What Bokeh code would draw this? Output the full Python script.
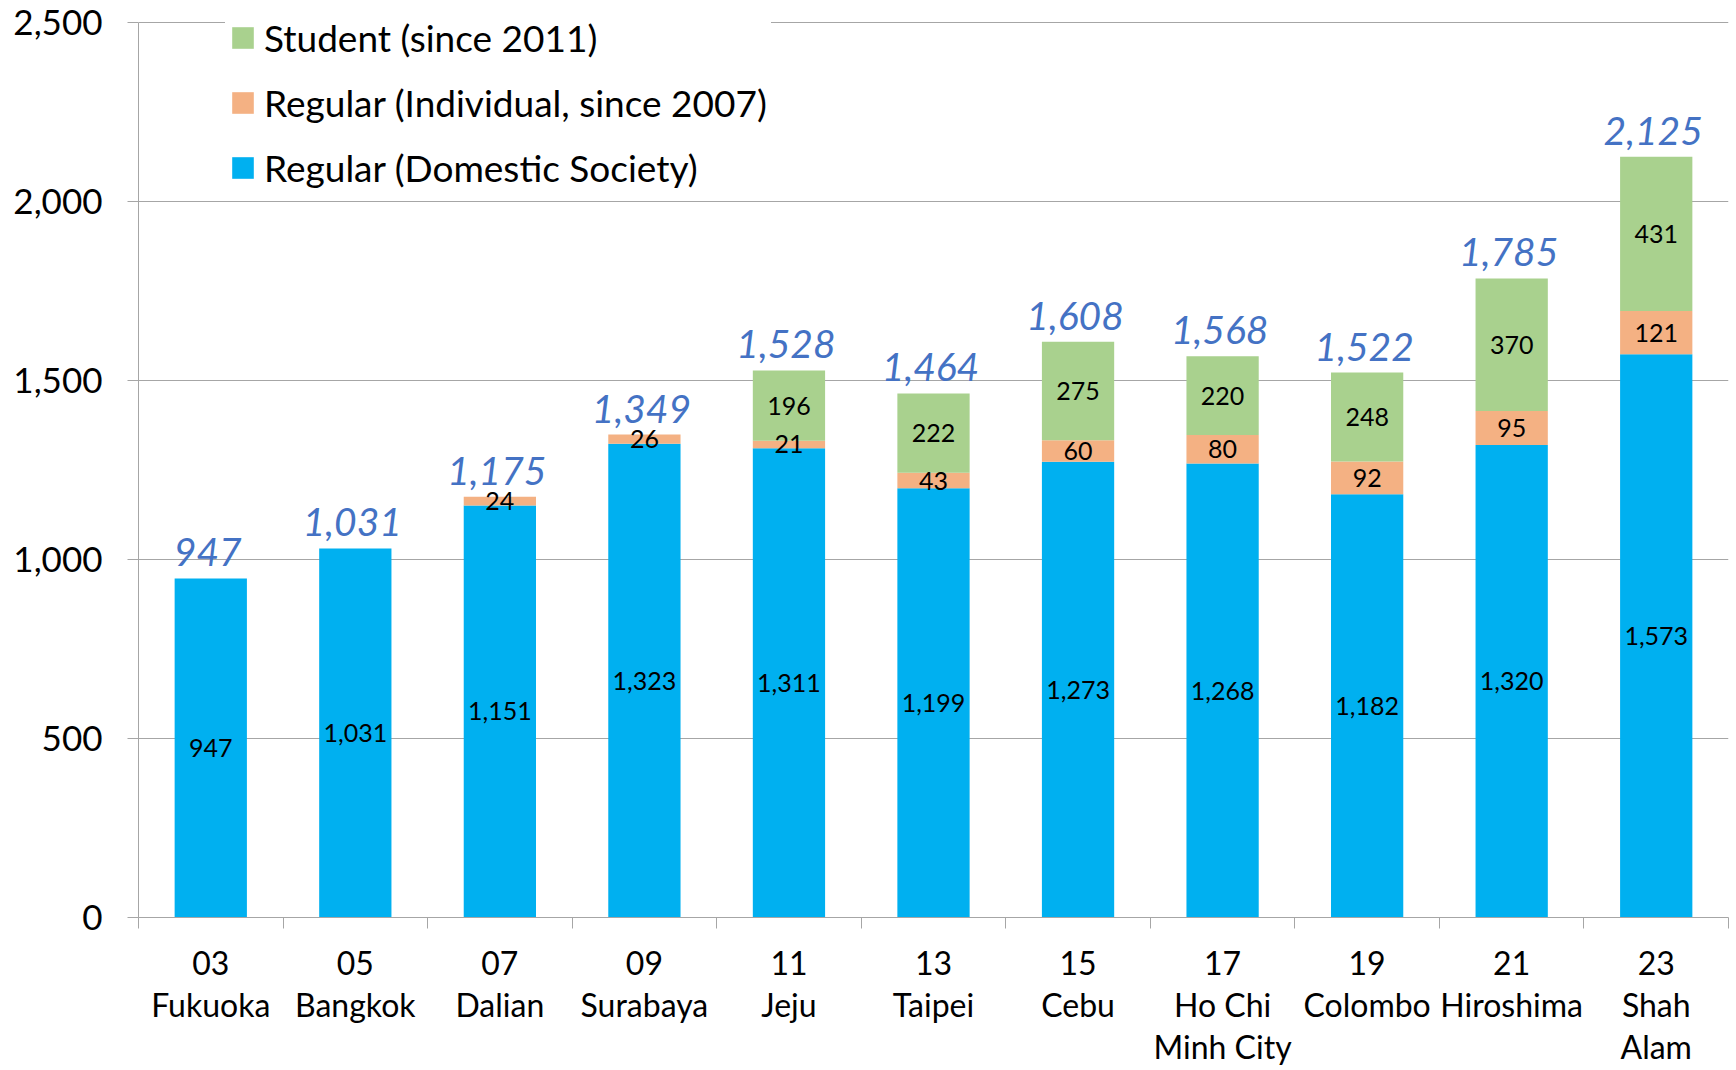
from bokeh.plotting import figure
from bokeh.models import ColumnDataSource, FixedTicker, NumeralTickFormatter, Legend, LegendItem
from bokeh.core.properties import value
from bokeh.embed import file_html
from bokeh.resources import INLINE

years = ["03", "05", "07", "09", "11", "13", "15", "17", "19", "21", "23"]
cities = ["Fukuoka", "Bangkok", "Dalian", "Surabaya", "Jeju", "Taipei", "Cebu",
          "Ho Chi\nMinh City", "Colombo", "Hiroshima", "Shah\nAlam"]
domestic = [947, 1031, 1151, 1323, 1311, 1199, 1273, 1268, 1182, 1320, 1573]
individual = [0, 0, 24, 26, 21, 43, 60, 80, 92, 95, 121]
student = [0, 0, 0, 0, 196, 222, 275, 220, 248, 370, 431]
y_ticks = [0, 500, 1000, 1500, 2000, 2500]
series_names = ["Regular (Domestic Society)", "Regular (Individual, since 2007)", "Student (since 2011)"]

FONT = "Lato"
GRAY = "#A6A6A6"
colors = ["#00B0F0", "#F4B183", "#A9D18E"]

n = len(years)
xs = [i + 0.5 for i in range(n)]
totals = [d + a + s for d, a, s in zip(domestic, individual, student)]

src = ColumnDataSource(dict(x=xs, domestic=domestic, individual=individual, student=student))

FRAME_H = 903
Y_TOP = y_ticks[-1] * FRAME_H / (FRAME_H - 8)   # 8px headroom above the top gridline
p = figure(frame_width=1590, frame_height=FRAME_H, x_range=(0, n), y_range=(0, Y_TOP),
           output_backend="svg", toolbar_location=None,
           min_border_left=138, min_border_right=8, min_border_top=14, min_border_bottom=140)
p.outline_line_color = None
p.background_fill_color = "white"

rs = p.vbar_stack(["domestic", "individual", "student"], x="x", width=0.5, source=src,
                  color=colors, line_color=None)

# segment labels
lx, ly, lt = [], [], []
for vals, base in ((domestic, [0] * n),
                   (individual, domestic),
                   (student, [d + a for d, a in zip(domestic, individual)])):
    for i in range(n):
        if vals[i] > 0:
            lx.append(xs[i])
            ly.append(base[i] + vals[i] / 2)
            lt.append(f"{vals[i]:,}")
p.text(x=lx, y=ly, text=lt, text_align="center", text_baseline="middle",
       text_font=value(FONT), text_font_size="25px", text_color="black")

# total labels
p.text(x=xs, y=totals, text=[f"{t:,}" for t in totals], text_align="center",
       text_baseline="alphabetic", y_offset=-26, x_offset=-3,
       text_font=value(FONT), text_font_size="39px", text_font_style="italic",
       text_color="#4472C4")

# y axis
p.yaxis.ticker = FixedTicker(ticks=y_ticks)
p.yaxis.formatter = NumeralTickFormatter(format="0,0")
p.yaxis.bounds = (y_ticks[0], y_ticks[-1])
p.yaxis.axis_line_color = GRAY
p.yaxis.major_tick_line_color = GRAY
p.yaxis.major_tick_out = 11
p.yaxis.major_tick_in = 0
p.yaxis.minor_tick_line_color = None
p.yaxis.major_label_text_font = FONT
p.yaxis.major_label_text_font_size = "35px"
p.yaxis.major_label_text_color = "black"
p.yaxis.major_label_standoff = 25

# x axis
p.xaxis.ticker = FixedTicker(ticks=xs, minor_ticks=list(range(n + 1)))
p.xaxis.major_label_overrides = {x: f"{y}\n{c}" for x, y, c in zip(xs, years, cities)}
p.xaxis.axis_line_color = GRAY
p.xaxis.major_tick_line_color = None
p.xaxis.major_tick_out = 0
p.xaxis.major_tick_in = 0
p.xaxis.minor_tick_line_color = GRAY
p.xaxis.minor_tick_out = 11
p.xaxis.minor_tick_in = 0
p.xaxis.major_label_text_font = FONT
p.xaxis.major_label_text_font_size = "32px"
p.xaxis.major_label_text_line_height = 1.08
p.xaxis.major_label_text_color = "black"
p.xaxis.major_label_standoff = 14

p.xgrid.visible = False
p.ygrid.grid_line_color = GRAY
p.ygrid.grid_line_width = 1

# legend: location is the box's bottom-left, measured from the frame's bottom-left
legend = Legend(items=[LegendItem(label=series_names[2], renderers=[rs[2]]),
                       LegendItem(label=series_names[1], renderers=[rs[1]]),
                       LegendItem(label=series_names[0], renderers=[rs[0]])],
                location=(87, 723))
legend.padding = 0
legend.margin = 0
legend.spacing = 20
legend.glyph_width = 27
legend.glyph_height = 27
legend.label_height = 44
legend.label_standoff = 8
legend.label_text_font = FONT
legend.label_text_font_size = "37px"
legend.label_text_color = "black"
legend.border_line_color = "white"
legend.border_line_width = 4
legend.background_fill_color = "white"
legend.background_fill_alpha = 1
p.add_layout(legend)

open("out.html", "w").write(file_html(p, INLINE))
